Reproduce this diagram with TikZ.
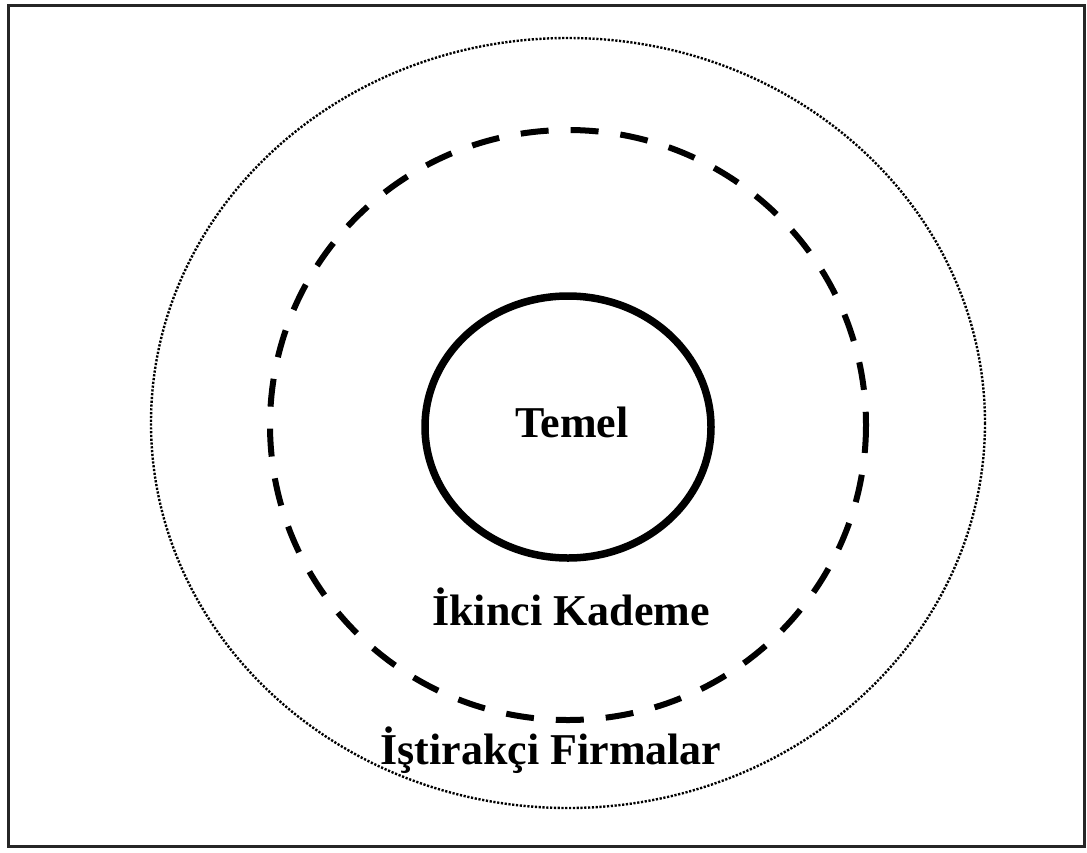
\documentclass[tikz,border=0pt]{standalone}
\usepackage{fontspec}
\setmainfont{Liberation Serif}
\begin{document}
\begin{tikzpicture}[x=1pt,y=-1pt,
  label/.style={font=\fontsize{44}{50}\selectfont\bfseries, inner sep=0pt, text=black},
  frame/.style={draw=black!85, line width=3pt},
  core/.style={draw=black, line width=7.5pt},
  second/.style={draw=black, line width=6pt, dash pattern=on 28pt off 22pt},
  affiliate/.style={draw=black, line width=2.4pt, dash pattern=on 2.2pt off 1.6pt}]
\useasboundingbox (0,0) rectangle (1087,852);
\draw[frame] (8,5) rectangle (1084,846);
\draw[affiliate] (568,423) ellipse [x radius=417, y radius=385];
\draw[second] (568,425) ellipse [x radius=298, y radius=295];
\draw[core] (568,427) ellipse [x radius=143, y radius=131];
\node[label] (temel) at (572,422) {Temel};
\node[label] (ikinci) at (571,607) {İkinci Kademe};
\node[label] (istirak) at (551,750) {İştirakçi Firmalar};
\end{tikzpicture}
\end{document}
